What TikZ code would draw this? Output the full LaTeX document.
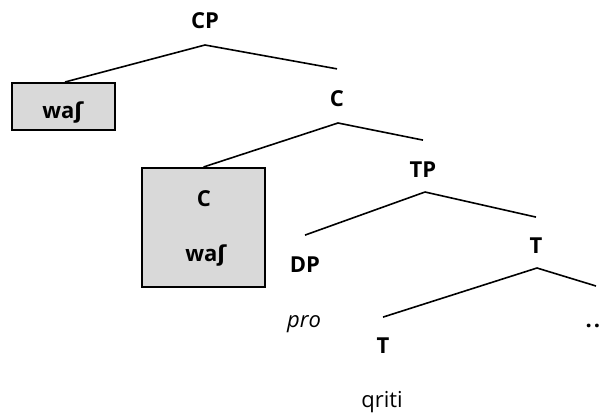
\documentclass[tikz,border=0pt]{standalone}
\usepackage{fontspec}
\setmainfont{Open Sans}
\newfontfamily\ipafont{DejaVu Sans}
\newcommand{\esh}{{\ipafont ʃ}}
\usetikzlibrary{
  positioning % for relative placement of the branch ends
}
\definecolor{boxgray}{RGB}{217,217,217}
\tikzset{
  cat/.style={ % style for the category labels
    font=\fontsize{22}{26}\selectfont\bfseries, % bold labels
    inner sep=0pt, % anchors sit right on the glyphs
    anchor=base, % place labels by their baseline
  },
  word/.style={ % style for the words under the labels
    cat, % inherit the cat style
    font=\fontsize{22}{26}\selectfont\mdseries, % but not bold
  },
  movebox/.style={ % style for the grey boxes
    rectangle,draw,fill=boxgray, % grey filled rectangle
    line width=2pt, % thick border
    inner sep=0pt,
  },
  branch/.style={ % style for the tree branches
    line width=1.6pt,
  },
}

\begin{document}
\begin{tikzpicture}[x=1pt,y=-1pt]
\useasboundingbox (0,0) rectangle (601,418);
% boxes
\node[movebox, minimum width=103pt, minimum height=47pt] (b1) at (63.5,106.5) {};
\node[movebox, minimum width=123pt, minimum height=119pt] (b2) at (203.5,227.5) {};
% labels
\node[cat] (cp) at (205,28) {CP};
\node[cat] (w1) at (63,118) {wa\esh};
\node[cat] (c1) at (337,106) {C};
\node[cat] (c2) at (204,206) {C};
\node[cat] (w2) at (206,261) {wa\esh};
\node[cat] (tp) at (423,177) {TP};
\node[cat] (dp) at (305,272) {DP};
\node[word, font=\fontsize{22}{26}\selectfont\mdseries\itshape] (pro) at (304,327) {pro};
\node[cat] (t1) at (536,253) {T};
\node[cat] (t2) at (383,353) {T};
\node[cat] (dots) at (593,327) {.\kern2pt.};
\node[word] (qriti) at (382,407) {qriti};
% branch points
\coordinate (cp-top) at ([yshift=-17pt]cp.base);
\coordinate (c1-top) at ([xshift=1pt,yshift=-17pt]c1.base);
\coordinate (tp-top) at ([xshift=2pt,yshift=-15pt]tp.base);
\coordinate (t1-top) at ([xshift=1pt,yshift=-15pt]t1.base);
\coordinate (c1-end) at ([yshift=21pt]c1.north);
\coordinate (tp-end) at ([yshift=21pt]tp.north);
\coordinate (dp-end) at ([yshift=21pt]dp.north);
\coordinate (t1-end) at ([yshift=20pt]t1.north);
\coordinate (t2-end) at ([yshift=20pt]t2.north);
\coordinate (dots-end) at (596,286);
% branches
\draw[branch] (cp-top) -- ([xshift=1.5pt]b1.north);
\draw[branch] (cp-top) -- (c1-end);
\draw[branch] (c1-top) -- (b2.north);
\draw[branch] (c1-top) -- (tp-end);
\draw[branch] (tp-top) -- (dp-end);
\draw[branch] (tp-top) -- (t1-end);
\draw[branch] (t1-top) -- (t2-end);
\draw[branch] (t1-top) -- (dots-end);
\end{tikzpicture}
\end{document}
